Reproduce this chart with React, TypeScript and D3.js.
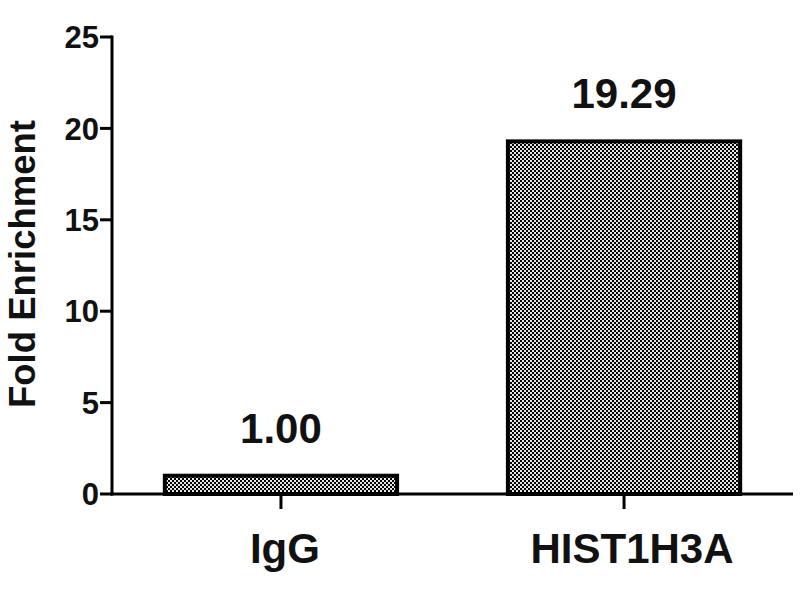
import React from "react";
import * as d3 from "d3";

const categories = ["IgG", "HIST1H3A"];
const values = [1.0, 19.29];
const valueLabels = ["1.00", "19.29"];
const yTicks = [0, 5, 10, 15, 20, 25];
const yTitle = "Fold Enrichment";

export default function App() {
  const W = 800, H = 600;
  const x0 = 112, y0 = 494;
  const y = d3.scaleLinear().domain([0, 25]).range([y0, 37]);
  const x = d3.scaleBand<string>().domain(categories).range([x0, 793]).paddingInner(0.323).paddingOuter(0.154);
  const font = "'Liberation Sans', Arial, Helvetica, sans-serif";
  return (
    <svg width={W} height={H} style={{ position: "absolute", left: 0, top: 0, background: "#fff" }} fontFamily={font}>
      <defs>
        <pattern id="chk" width={4} height={4} patternUnits="userSpaceOnUse">
          <rect width={4} height={4} fill="#e6e6e6" />
          <rect x={0} y={0} width={2} height={2} fill="#000" />
          <rect x={2} y={2} width={2} height={2} fill="#000" />
        </pattern>
      </defs>
      {categories.map((c, i) => (
        <g key={c}>
          <rect x={x(c)!} y={y(values[i])} width={x.bandwidth()} height={y0 - y(values[i])}
            fill="url(#chk)" stroke="#000" strokeWidth={4} />
          <text x={x(c)! + x.bandwidth() / 2} y={y(values[i]) - 33} textAnchor="middle" fontSize={42} fontWeight="bold" fill="#111">
            {valueLabels[i]}
          </text>
          <line x1={x(c)! + x.bandwidth() / 2} x2={x(c)! + x.bandwidth() / 2} y1={y0} y2={y0 + 15} stroke="#000" strokeWidth={3} />
          <text x={x(c)! + x.bandwidth() / 2 + (i === 1 ? 8 : 4)} y={563} textAnchor="middle" fontSize={42} fontWeight="bold" fill="#111">
            {c}
          </text>
        </g>
      ))}
      <line x1={x0} x2={x0} y1={y(25) - 1.5} y2={y0 + 1.5} stroke="#000" strokeWidth={3} />
      <line x1={x0 - 1.5} x2={793} y1={y0} y2={y0} stroke="#000" strokeWidth={3} />
      {yTicks.map((t) => (
        <g key={t}>
          <line x1={x0 - 12} x2={x0} y1={y(t)} y2={y(t)} stroke="#000" strokeWidth={3} />
          <text x={x0 - 13} y={y(t)} dy="0.36em" textAnchor="end" fontSize={31} fontWeight="bold" fill="#111">
            {t}
          </text>
        </g>
      ))}
      <text transform={`translate(35, 264) rotate(-90)`} textAnchor="middle" fontSize={36.5} fontWeight="bold" fill="#111">
        {yTitle}
      </text>
    </svg>
  );
}
